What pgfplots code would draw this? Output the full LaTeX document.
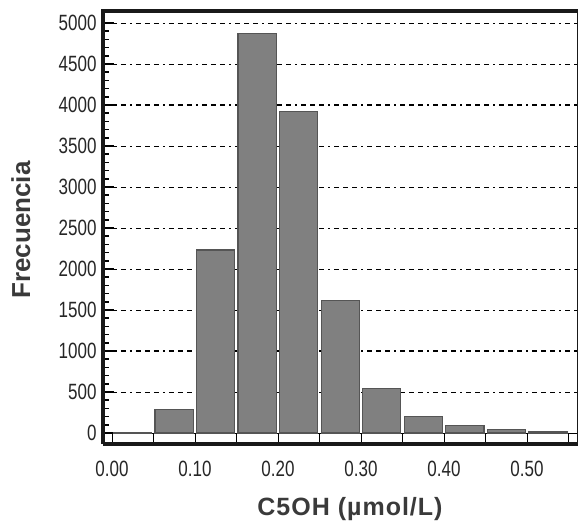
\documentclass[border=0pt]{standalone}
\usepackage{pgfplots}
\pgfplotsset{compat=1.18}
\usepackage{fontspec}
\setmainfont{Liberation Sans}
\definecolor{barfill}{HTML}{808080}
\definecolor{baredge}{HTML}{555555}
\definecolor{labgray}{HTML}{3A3A3A}
\newcommand{\tl}[1]{\scalebox{1}[1.3]{#1}}
\begin{document}
\begin{tikzpicture}[x=1pt,y=1pt]
\path[use as bounding box] (0,0) rectangle (579,523);
\begin{axis}[
    at={(103pt,79pt)}, anchor=south west,
    scale only axis,
    width=475pt, height=433pt,
    xmin=-0.0108, xmax=0.5614,
    ymin=-134, ymax=5146,
    axis line style={draw=none},
    xtick={0,0.05,...,0.56},
    xticklabels={\tl{0.00},,\tl{0.10},,\tl{0.20},,\tl{0.30},,\tl{0.40},,\tl{0.50},},
    ytick={0,500,...,5000},
    yticklabel={\tl{\pgfmathprintnumber{\tick}}},
    minor y tick num=4,
    xtick pos=bottom, ytick pos=left,
    tick align=inside,
    major tick length=11pt, minor tick length=6pt,
    y tick style={black, line width=2.2pt},
    minor y tick style={black, line width=1.6pt},
    x tick style={black, line width=0.7pt},
    /pgf/number format/1000 sep={},
    /pgf/number format/assume math mode=true,
    tick label style={font=\fontsize{17}{17}\selectfont, text=black!85},
    yticklabel style={xshift=-3pt},
    xticklabel style={yshift=-14pt},
    ymajorgrids,
    major grid style={black, line width=0.8pt, dash pattern=on 5pt off 4pt on 5pt off 4pt on 5pt off 4pt on 2pt off 4pt},
    ylabel={\bfseries Frecuencia},
    ylabel style={font=\fontsize{26}{26}\selectfont, text=labgray, at={(axis description cs:-0.173,0.494)}, anchor=center},
    xlabel={\bfseries\addfontfeatures{LetterSpace=4}C5OH (\textmu mol/L)},
    xlabel style={font=\fontsize{25}{25}\selectfont, text=labgray, at={(axis description cs:0.52,-0.166)}, anchor=base},
    clip=false,
]
% heavier grid lines at 1000 and 4000
\addplot[black, line width=1.7pt, dash pattern=on 5pt off 4pt on 5pt off 4pt on 5pt off 4pt on 2pt off 4pt]
    coordinates {(-0.0108,1000) (0.5614,1000)};
\addplot[black, line width=1.7pt, dash pattern=on 5pt off 4pt on 5pt off 4pt on 5pt off 4pt on 2pt off 4pt]
    coordinates {(-0.0108,4000) (0.5614,4000)};
% baseline
\addplot[black, line width=0.7pt] coordinates {(-0.0108,0) (0.5614,0)};

\addplot[ybar, bar width=0.046, bar shift=0pt, fill=barfill, draw=baredge, line width=1.3pt]
    coordinates {
    (0.025,10) (0.075,290) (0.125,2230) (0.175,4870) (0.225,3920)
    (0.275,1620) (0.325,540) (0.375,200) (0.425,95) (0.475,45) (0.525,12)
    };

% frame
\draw[black!90, line width=3.5pt] (rel axis cs:0,0) -- (rel axis cs:0,1) -- (rel axis cs:1,1);
\draw[black!90, line width=3.5pt] (rel axis cs:0,0) -- (rel axis cs:1,0);
\draw[black!90, line width=1pt] (rel axis cs:1,0) -- (rel axis cs:1,1);
\end{axis}
\end{tikzpicture}
\end{document}
